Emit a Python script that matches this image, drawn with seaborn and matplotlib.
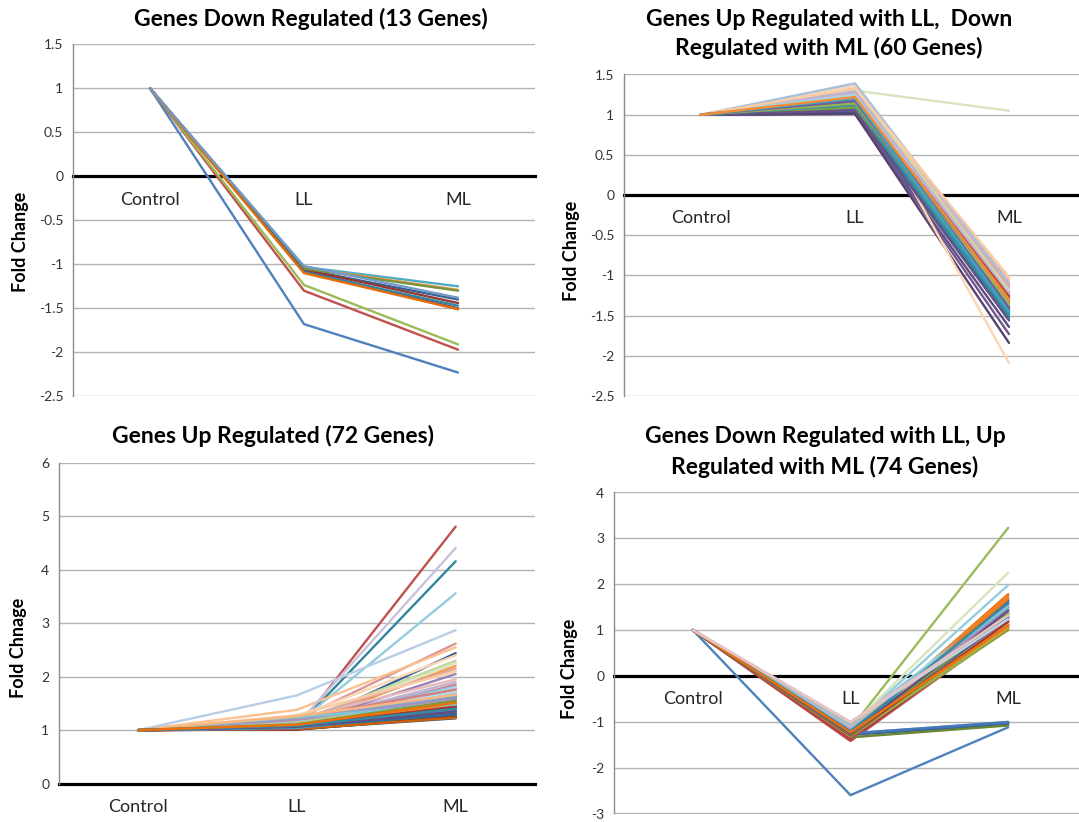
import colorsys
import matplotlib
matplotlib.use("Agg")
import matplotlib.pyplot as plt
import matplotlib.colors as mcolors
import numpy as np
import pandas as pd
import seaborn as sns

# ---------------- data ----------------
CONDITIONS = ["Control", "LL", "ML"]
CONTROL_VALUE = 1.0

# Panel 1: Genes Down Regulated (13 genes)
p1_ll = [-1.68, -1.30, -1.235, -1.07, -1.03, -1.04, -1.06, -1.06, -1.05, -1.08, -1.09, -1.10, -1.02]
p1_ml = [-2.23, -1.97, -1.91, -1.51, -1.25, -1.29, -1.40, -1.44, -1.30, -1.50, -1.47, -1.51, -1.38]

# Panel 2: Up with LL, Down with ML (60 genes)
p2_ll = [1.03, 1.05, 1.08, 1.02, 1.04, 1.07,
         1.02, 1.06, 1.04, 1.01, 1.03, 1.09,
         1.12, 1.10, 1.13, 1.08, 1.11, 1.14,
         1.05, 1.07, 1.06, 1.02, 1.09, 1.11,
         1.18, 1.16, 1.21, 1.20, 1.17, 1.28,
         1.04, 1.08, 1.10, 1.01, 1.06, 1.12,
         1.22, 1.24, 1.30, 1.26, 1.23, 1.36,
         1.07, 1.13, 1.09, 1.05, 1.12, 1.15,
         1.39, 1.27, 1.32, 1.29, 1.25, 1.33,
         1.16, 1.19, 1.14, 1.17, 1.20, 1.22]
p2_ml = [-1.38, -1.22, -1.33, -1.45, -1.52, -1.36,
         -1.48, -1.29, -1.41, -1.64, -1.55, -1.35,
         -1.30, -1.18, -1.42, -1.26, -1.50, -1.39,
         -1.46, -1.20, -1.37, -1.73, -1.53, -1.31,
         -1.24, -1.12, -1.28, -1.21, -1.44, -1.05,
         -1.43, -1.25, -1.40, -1.84, -1.51, -1.34,
         -1.15, -1.08, 1.05, -1.17, -1.32, -2.09,
         -1.47, -1.27, -1.38, -1.56, -1.49, -1.33,
         -1.10, -1.14, -1.19, -1.23, -1.36, -1.02,
         -1.29, -1.26, -1.35, -1.40, -1.45, -1.30]

# Panel 3: Genes Up Regulated (72 genes)
p3_ll = [1.05, 1.02, 1.04, 1.03, 1.06, 1.08,
         1.05, 1.01, 1.03, 1.04, 1.06, 1.02,
         1.10, 1.08, 1.07, 1.09, 1.05, 1.12,
         1.03, 1.02, 1.04, 1.06, 1.05, 1.07,
         1.18, 1.20, 1.15, 1.20, 1.12, 1.38,
         1.02, 1.01, 1.03, 1.04, 1.06, 1.02,
         1.65, 1.22, 1.14, 1.10, 1.16, 1.25,
         1.04, 1.05, 1.06, 1.03, 1.07, 1.05,
         1.15, 1.18, 1.12, 1.13, 1.10, 1.28,
         1.04, 1.03, 1.05, 1.06, 1.04, 1.08,
         1.20, 1.22, 1.17, 1.19, 1.24, 1.26,
         1.07, 1.09, 1.11, 1.06, 1.08, 1.10]
p3_ml = [1.45, 4.81, 1.30, 1.75, 1.38, 2.20,
         2.44, 1.25, 1.28, 1.35, 4.16, 1.32,
         1.60, 1.85, 1.50, 2.05, 1.42, 1.70,
         1.24, 1.33, 1.27, 1.48, 1.65, 1.40,
         1.82, 2.62, 2.30, 1.78, 3.56, 2.55,
         1.22, 1.26, 1.31, 1.36, 1.29, 1.23,
         2.87, 1.95, 2.25, 4.41, 1.72, 2.40,
         1.52, 1.44, 1.39, 1.58, 1.62, 1.47,
         1.68, 2.15, 1.56, 1.90, 1.80, 2.10,
         1.34, 1.46, 1.54, 1.41, 1.37, 1.49,
         1.64, 1.76, 1.52, 1.59, 1.48, 1.66,
         1.30, 1.43, 1.55, 1.35, 1.40, 1.51]

# Panel 4: Down with LL, Up with ML (74 genes)
p4_ll = [-2.60, -1.42, -1.15, -1.25, -1.20, -1.18,
         -1.28, -1.38, -1.33, -1.30, -1.22, -1.24,
         -1.26, -1.19, -1.32, -1.21, -1.17, -1.16,
         -1.27, -1.35, -1.31, -1.29, -1.23, -1.25,
         -1.14, -1.12, -1.07, -1.13, -1.11, -1.09,
         -1.28, -1.36, -1.34, -1.30, -1.24, -1.26,
         -1.08, -1.06, -1.10, -1.09, -1.05, -1.08,
         -1.27, -1.33, -1.31, -1.28, -1.22, -1.25,
         -1.10, -1.07, -1.09, -1.11, -1.06, -1.04,
         -1.25, -1.37, -1.32, -1.29, -1.20, -1.23,
         -1.05, -1.03, -1.06, -1.04, -1.05, -1.02,
         -1.24, -1.30, -1.28, -1.26, -1.21, -1.23,
         -1.01, -1.00]
p4_ml = [-1.12, 1.05, 3.23, 1.60, 1.65, 1.20,
         -1.02, 1.10, 1.03, 1.55, 1.40, 1.78,
         -1.00, 1.50, -1.07, 1.70, 1.72, 1.15,
         -1.04, 1.30, 1.00, 1.45, 1.35, 1.75,
         1.62, 1.25, 1.22, 1.48, 1.98, 1.18,
         -1.05, 1.08, -1.08, 1.38, 1.28, 1.02,
         1.42, 1.32, 2.25, 1.52, 1.58, 1.12,
         -1.03, 1.20, 1.06, 1.65, 1.45, 1.68,
         1.35, 1.28, 1.40, 1.55, 1.47, 1.16,
         -1.01, 1.12, 1.04, 1.58, 1.50, 1.08,
         1.30, 1.22, 1.36, 1.44, 1.52, 1.14,
         1.26, 1.18, 1.34, 1.42, 1.60, 1.10,
         1.24, 1.32]

TITLES = ["Genes Down Regulated (13 Genes)",
          "Genes Up Regulated with LL,  Down\nRegulated with ML (60 Genes)",
          "Genes Up Regulated (72 Genes)",
          "Genes Down Regulated with LL, Up\nRegulated with ML (74 Genes)"]
YLABELS = ["Fold Change", "Fold Change", "Fold Chnage", "Fold Change"]

# ---------------- style ----------------
ACCENTS = ["#4F81BD", "#C0504D", "#9BBB59", "#8064A2", "#4BACC6", "#F79646"]
VARIANTS = [(1.0, 0.0), (0.75, 0.0), (0.8, 0.2), (0.88, 0.0), (0.6, 0.4), (0.68, 0.0),
            (0.4, 0.6), (0.82, 0.0), (0.5, 0.5), (0.94, 0.0), (0.7, 0.3), (0.78, 0.0),
            (0.35, 0.65)]


def excel_color(i):
    r, g, b = mcolors.to_rgb(ACCENTS[i % 6])
    mod, off = VARIANTS[(i // 6) % len(VARIANTS)]
    h, l, s = colorsys.rgb_to_hls(r, g, b)
    l = min(1.0, l * mod + off)
    return colorsys.hls_to_rgb(h, l, s)


sns.set_theme(style="white")
plt.rcParams["font.family"] = ["Lato", "DejaVu Sans"]

W, H = 1079, 822
fig = plt.figure(figsize=(W / 100, H / 100), dpi=100)
fig.patch.set_facecolor("white")

# axes boxes in pixels: left, right, top, bottom
BOXES = [(73, 535, 44.3, 396.3),
         (624, 1086, 74.5, 396.0),
         (59, 535, 463.0, 783.5),
         (614, 1087, 492.5, 813.5)]
YLIMS = [(-2.5, 1.5), (-2.5, 1.5), (0, 6), (-3, 4)]
YSTEPS = [0.5, 0.5, 1, 1]
TITLE_POS = [(311, 19, None), (829, 19, 48.4), (272.5, 436, None), (825, 436, 467)]
YLABEL_POS = [(21, 242), (571, 251), (19, 648), (569, 669)]

panels = [(p1_ll, p1_ml), (p2_ll, p2_ml), (p3_ll, p3_ml), (p4_ll, p4_ml)]

for k, ((ll, ml), box) in enumerate(zip(panels, BOXES)):
    left, right, top, bottom = box
    ax = fig.add_axes([left / W, 1 - bottom / H, (right - left) / W, (bottom - top) / H])
    rows = []
    for i, (a, b) in enumerate(zip(ll, ml)):
        g = f"g{i:03d}"
        rows.append((g, "Control", CONTROL_VALUE))
        rows.append((g, "LL", a))
        rows.append((g, "ML", b))
    df = pd.DataFrame(rows, columns=["gene", "cond", "value"])
    genes = [f"g{i:03d}" for i in range(len(ll))]
    pal = {g: excel_color(i) for i, g in enumerate(genes)}
    sns.lineplot(data=df, x="cond", y="value", hue="gene", hue_order=genes,
                 palette=pal, legend=False, sort=False, estimator=None,
                 linewidth=1.7, ax=ax, zorder=3)
    ax.set_xlim(-0.5, 2.5)
    lo, hi = YLIMS[k]
    ax.set_ylim(lo, hi)
    ax.set_yticks(np.arange(lo, hi + 1e-9, YSTEPS[k]))
    ax.yaxis.set_major_formatter(matplotlib.ticker.FuncFormatter(
        lambda v, p: f"{v:g}"))
    ax.grid(axis="y", color="#B4B4B4", linewidth=1.0, zorder=1)
    ax.grid(axis="x", visible=False)
    for s in ["top", "right"]:
        ax.spines[s].set_visible(False)
    ax.spines["left"].set_color("#8C8C8C")
    ax.spines["left"].set_linewidth(1.0)
    ax.spines["bottom"].set_position(("data", 0))
    ax.spines["bottom"].set_color("black")
    ax.spines["bottom"].set_linewidth(2.3)
    ax.spines["bottom"].set_zorder(2)
    ax.tick_params(axis="y", length=0, pad=7, labelsize=10, labelcolor="#333333")
    ax.tick_params(axis="x", length=0, pad=11, labelsize=13, labelcolor="#262626")
    ax.set_xlabel("")
    ax.set_ylabel("")
    ax.set_facecolor("white")
    # y label
    lx, ly = YLABEL_POS[k]
    fig.text(lx / W, 1 - ly / H, YLABELS[k], rotation=90, ha="center", va="center",
             fontsize=13, fontweight="bold", color="black")
    # title
    tx, ty1, ty2 = TITLE_POS[k]
    lines = TITLES[k].split("\n")
    fig.text(tx / W, 1 - ty1 / H, lines[0], ha="center", va="center",
             fontsize=16.5, fontweight="bold", color="black")
    if len(lines) > 1:
        fig.text(tx / W, 1 - ty2 / H, lines[1], ha="center", va="center",
                 fontsize=16.5, fontweight="bold", color="black")

fig.savefig("out.png", dpi=100, facecolor="white")
